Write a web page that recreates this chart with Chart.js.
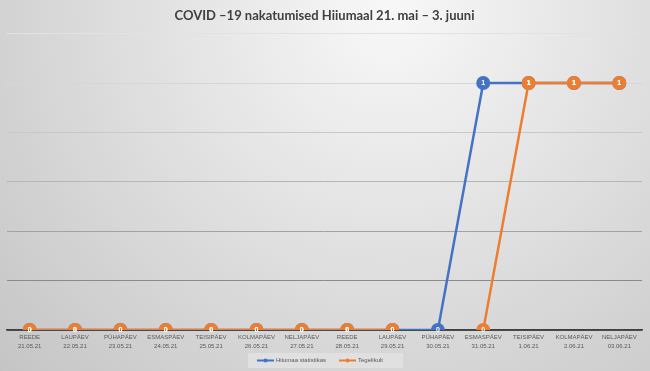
<!DOCTYPE html>
<html>
<head>
<meta charset="utf-8">
<script src="https://cdn.jsdelivr.net/npm/chart.js@4/dist/chart.umd.min.js"></script>
<style>
  html, body { margin: 0; padding: 0; }
  #wrap { width: 650px; height: 371px; position: relative; }
</style>
</head>
<body>
<div id="wrap"><canvas id="chart" width="650" height="371"></canvas></div>
<script>
// ---------------------------
// Data
// ---------------------------
const dayNames = ["REEDE","LAUPÄEV","PÜHAPÄEV","ESMASPÄEV","TEISIPÄEV","KOLMAPÄEV","NELJAPÄEV",
                  "REEDE","LAUPÄEV","PÜHAPÄEV","ESMASPÄEV","TEISIPÄEV","KOLMAPÄEV","NELJAPÄEV"];
const dates = ["21.05.21","22.05.21","23.05.21","24.05.21","25.05.21","26.05.21","27.05.21",
               "28.05.21","29.05.21","30.05.21","31.05.21","1.06.21","2.06.21","03.06.21"];
const statValues = [0,0,0,0,0,0,0,0,0,0,1,1,1,1];
const realValues = [0,0,0,0,0,0,0,0,0,null,0,1,1,1];
const seriesNames = ["Hiiumaa statistikas","Tegelikult"];
const titleText = "COVID –19 nakatumised Hiiumaal 21. mai – 3. juuni";

const BLUE = "#4472C4";
const ORANGE = "#ED7D31";

// ---------------------------
// Plugins
// ---------------------------
const bgPlugin = {
  id: "bg",
  beforeDraw(chart){
    const c = chart.ctx;
    const g = c.createRadialGradient(390, 10, 10, 390, 10, 560);
    g.addColorStop(0, "#f7f7f7");
    g.addColorStop(1, "#c2c2c2");
    c.save();
    c.fillStyle = g;
    c.fillRect(0, 0, chart.width, chart.height);
    c.restore();
  }
};

const labelPlugin = {
  id: "pointLabels",
  afterDatasetsDraw(chart){
    const c = chart.ctx;
    c.save();
    c.fillStyle = "#ffffff";
    c.font = "bold 7px 'Liberation Sans'";
    c.textAlign = "center";
    c.textBaseline = "middle";
    chart.data.datasets.forEach((ds, di)=>{
      const meta = chart.getDatasetMeta(di);
      meta.data.forEach((pt, i)=>{
        if(ds.data[i] == null) return;
        c.fillText(String(ds.data[i]), pt.x, pt.y + 0.5);
      });
    });
    c.restore();
  }
};

const legendPlugin = {
  id: "manualLegend",
  afterDraw(chart){
    const c = chart.ctx;
    c.save();
    c.fillStyle = "rgba(225,225,225,0.9)";
    c.fillRect(248, 353, 155, 15);
    c.font = "6px 'Liberation Sans'";
    c.textBaseline = "middle";
    const y = 360.5;
    const items = [
      { x: 257, color: BLUE, text: seriesNames[0] },
      { x: 339, color: ORANGE, text: seriesNames[1] }
    ];
    for(const it of items){
      c.strokeStyle = it.color;
      c.lineWidth = 2;
      c.beginPath();
      c.moveTo(it.x, y);
      c.lineTo(it.x + 17, y);
      c.stroke();
      c.fillStyle = it.color;
      c.beginPath();
      c.arc(it.x + 8.5, y, 2, 0, Math.PI*2);
      c.fill();
      c.fillStyle = "#595959";
      c.fillText(it.text, it.x + 19, y);
    }
    c.restore();
  }
};

// grid colours get darker towards the bottom
const gridColors = ["#555555","#8a8a8a","#a2a2a2","#b6b6b6","#c8c8c8","#d6d6d6","#e2e2e2"];

new Chart(document.getElementById("chart"), {
  type: "line",
  data: {
    labels: dates,
    datasets: [
      {
        label: seriesNames[0],
        data: statValues,
        borderColor: BLUE,
        backgroundColor: BLUE,
        borderWidth: 2.5,
        pointRadius: 7,
        pointBorderWidth: 0,
        pointBackgroundColor: BLUE,
        tension: 0,
        order: 1
      },
      {
        label: seriesNames[1],
        data: realValues,
        borderColor: ORANGE,
        backgroundColor: ORANGE,
        borderWidth: 2.5,
        pointRadius: 7,
        pointBorderWidth: 0,
        pointBackgroundColor: ORANGE,
        tension: 0,
        spanGaps: false,
        order: 0
      }
    ]
  },
  options: {
    responsive: false,
    animation: false,
    layout: { padding: { left: 7, right: 8, top: 0, bottom: 17 } },
    plugins: {
      legend: { display: false },
      tooltip: { enabled: false },
      title: {
        display: true,
        text: titleText,
        color: "#404040",
        font: { family: "Lato", size: 13, weight: "bold" },
        padding: { top: 8, bottom: 10 }
      }
    },
    elements: { point: { hoverRadius: 7 } },
    scales: {
      x: {
        offset: true,
        grid: { display: false, drawTicks: false },
        border: { display: true, color: "#404040", width: 1.5 },
        ticks: {
          color: "#595959",
          font: { family: "Liberation Sans", size: 6, lineHeight: 1.5 },
          padding: 3,
          maxRotation: 0,
          autoSkip: false,
          callback: (v, i)=> [dayNames[i], dates[i]]
        }
      },
      y: {
        min: 0,
        max: 1.2,
        ticks: { display: false, stepSize: 0.2 },
        border: { display: false },
        grid: {
          drawTicks: false,
          lineWidth: 1,
          color: (ctx)=> gridColors[ctx.index] || "#cccccc"
        }
      }
    }
  },
  plugins: [bgPlugin, labelPlugin, legendPlugin]
});
</script>
</body>
</html>
